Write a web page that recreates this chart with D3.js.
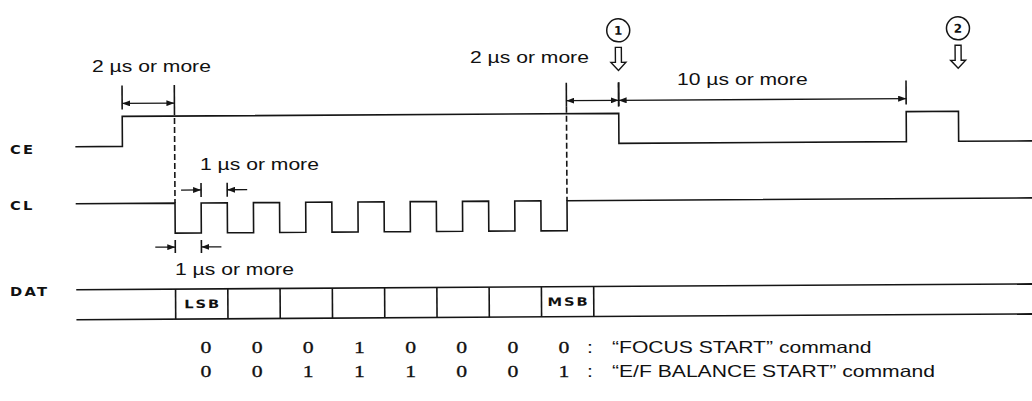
<!DOCTYPE html>
<html>
<head>
<meta charset="utf-8">
<script src="https://cdn.jsdelivr.net/npm/d3@7"></script>
<style>
    body { margin: 0; background: #fff; }
    svg { display: block; }
    .wave { fill: none; stroke: #151515; stroke-width: 1.6; }
    .note { font-family: "Liberation Sans", Arial, sans-serif; font-size: 16.5px; fill: #111; }
    .sig { font-family: "DejaVu Sans", sans-serif; font-weight: bold; font-size: 11.5px; letter-spacing: 1.8px; fill: #111; }
    .bit { font-family: "Liberation Serif", "Times New Roman", serif; font-size: 17px; fill: #111; stroke: #111; stroke-width: 0.3; }
</style>
</head>
<body>
<svg id="chart"></svg>
<script>
// signal names and the time points (in CL half periods) where each one toggles
const signals = ["CE", "CL", "DAT"];
const timeSpan = [-3.8, 33];
const ceEdges = [-2, 17, 28, 30];                                   // starts low
const clEdges = [0, 1, 2, 3, 4, 5, 6, 7, 8, 9, 10, 11, 12, 13, 14, 15]; // starts high
const datCells = [0, 2, 4, 6, 8, 10, 12, 14, 16];
const datLabels = ["LSB", "", "", "", "", "", "", "MSB"];

// command bit patterns (LSB first)
const focusBits = [0, 0, 0, 1, 0, 0, 0, 0];
const efBits = [0, 0, 1, 1, 1, 0, 0, 1];
const commandNames = ["\u201cFOCUS START\u201d command", "\u201cE/F BALANCE START\u201d command"];

// timing requirements
const spans = [
    { from: -2, to: 0, label: "2 \u00b5s or more" },
    { from: 15, to: 17, label: "2 \u00b5s or more" },
    { from: 17, to: 28, label: "10 \u00b5s or more" }
];
const pulses = [
    { from: 1, to: 2, label: "1 \u00b5s or more" },
    { from: 0, to: 1, label: "1 \u00b5s or more" }
];
const markers = [{ t: 17, label: "1" }, { t: 30, label: "2" }];

// init setting
const svg = d3.select("#chart")
    .attr("width", 1032)
    .attr("height", 401);
const SX = 1.28; // the scan is stretched sideways
const x = d3.scaleLinear().domain([0, 15]).range([175, 567]);
const level = { CE: [144, 114], CL: [231, 201] }; // [low, high]
const datTop = 287, datBot = 317;

// arrow head
svg.append("defs").append("marker")
    .attr("id", "head")
    .attr("markerUnits", "userSpaceOnUse")
    .attr("markerWidth", 8).attr("markerHeight", 6)
    .attr("refX", 8).attr("refY", 3)
    .attr("orient", "auto-start-reverse")
    .append("path").attr("d", "M0,0L8,3L0,6Z").attr("fill", "#151515");

// the whole drawing is tilted a little, like the scan
const g = svg.append("g").attr("transform", "rotate(-0.35,516,200)");

function steps(edges, start) {
    const pts = [[timeSpan[0], start]];
    let v = start;
    edges.forEach(t => { v = 1 - v; pts.push([t, v]); });
    pts.push([timeSpan[1], v]);
    return pts;
}
function waveLine(sig) {
    const y = d3.scaleLinear().domain([0, 1]).range(level[sig]);
    return d3.line().x(d => x(d[0])).y(d => y(d[1])).curve(d3.curveStepAfter);
}

g.append("path").attr("class", "wave").attr("d", waveLine("CE")(steps(ceEdges, 0)));
g.append("path").attr("class", "wave").attr("d", waveLine("CL")(steps(clEdges, 1)));

// DAT bus
[datTop, datBot].forEach(yy => {
    g.append("line").attr("class", "wave")
        .attr("x1", x(timeSpan[0])).attr("x2", x(timeSpan[1]))
        .attr("y1", yy).attr("y2", yy);
});
g.selectAll(".cell")
    .data(datCells)
    .enter().append("line")
    .attr("class", "wave cell")
    .attr("x1", d => x(d)).attr("x2", d => x(d))
    .attr("y1", datTop).attr("y2", datBot);
g.selectAll(".cell-label")
    .data(datLabels)
    .enter().append("text")
    .attr("class", "sig cell-label")
    .attr("transform", (d, i) => `translate(${(x(datCells[i]) + x(datCells[i + 1])) / 2 + 1},${(datTop + datBot) / 2}) scale(${SX},1)`)
    .attr("dy", "0.36em")
    .style("text-anchor", "middle")
    .style("letter-spacing", "1.5px")
    .style("font-size", "11.5px")
    .text(d => d);

// dashed guides
[0, 15].forEach(t => {
    g.append("line").attr("class", "wave")
        .attr("x1", x(t)).attr("x2", x(t))
        .attr("y1", 107).attr("y2", level.CL[1])
        .style("stroke-dasharray", "6,3");
});

// timing spans, arrows inside
spans.forEach(s => {
    [s.from, s.to].forEach(t => {
        g.append("line").attr("class", "wave")
            .attr("x1", x(t)).attr("x2", x(t))
            .attr("y1", 83).attr("y2", 107);
    });
    g.append("line").attr("class", "wave")
        .style("stroke-width", 1.3)
        .attr("x1", x(s.from)).attr("x2", x(s.to))
        .attr("y1", 101).attr("y2", 101)
        .attr("marker-start", "url(#head)")
        .attr("marker-end", "url(#head)");
});

// pulse widths, arrows outside
const pulseRows = [{ y: 188, top: 181, bot: 195 }, { y: 245, top: 238, bot: 251 }];
pulses.forEach((p, i) => {
    const r = pulseRows[i];
    [[p.from, -20], [p.to, 20]].forEach(([t, off]) => {
        g.append("line").attr("class", "wave")
            .attr("x1", x(t)).attr("x2", x(t))
            .attr("y1", r.top).attr("y2", r.bot);
        g.append("line").attr("class", "wave")
            .style("stroke-width", 1.3)
            .attr("x1", x(t) + off).attr("x2", x(t))
            .attr("y1", r.y).attr("y2", r.y)
            .attr("marker-end", "url(#head)");
    });
});

// circled event markers with hollow arrows
markers.forEach(m => {
    const cx = x(m.t);
    g.append("circle").attr("cx", cx).attr("cy", 31).attr("r", 11.5)
        .attr("fill", "none").attr("stroke", "#151515").attr("stroke-width", 1.5);
    g.append("text").attr("class", "sig")
        .attr("x", cx).attr("y", 31).attr("dy", "0.36em")
        .style("text-anchor", "middle").style("font-size", "12px").style("letter-spacing", "0")
        .text(m.label);
    g.append("path")
        .attr("d", `M${cx - 3},48V63H${cx - 7.5}L${cx},71L${cx + 7.5},63H${cx + 3}V48Z`)
        .attr("fill", "none").attr("stroke", "#151515").attr("stroke-width", 1.4);
});

// text, stretched sideways
function put(sel, px, py) {
    return sel.attr("transform", `translate(${px},${py}) scale(${SX},1)`);
}
const labelY = { CE: 150, CL: 206, DAT: 292 };
signals.forEach(s => {
    put(svg.append("text").attr("class", "sig").attr("dy", "0.36em").text(s), 10, labelY[s]);
});

const spanText = [[92, 72], [470, 63], [677, 85]];
spans.forEach((s, i) => {
    put(svg.append("text").attr("class", "note").text(s.label), spanText[i][0], spanText[i][1]);
});
const pulseText = [[200, 170], [175, 275]];
pulses.forEach((p, i) => {
    put(svg.append("text").attr("class", "note").text(p.label), pulseText[i][0], pulseText[i][1]);
});

// command table
const bitX = d3.scaleLinear().domain([0, 7]).range([206, 564]);
[focusBits, efBits].forEach((bits, r) => {
    const by = 353 + r * 24;
    bits.forEach((b, i) => {
        put(svg.append("text").attr("class", "bit").style("text-anchor", "middle").text(b), bitX(i), by);
    });
    put(svg.append("text").attr("class", "note").style("text-anchor", "middle").text(":"), 590, by);
    put(svg.append("text").attr("class", "note").text(commandNames[r]), 612, by);
});
</script>
</body>
</html>
